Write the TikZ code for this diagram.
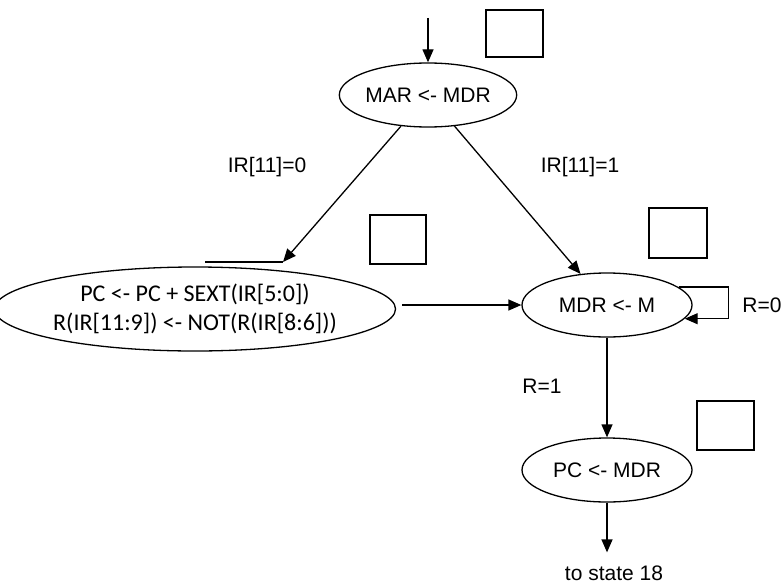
\documentclass[tikz,border=0pt]{standalone}
\usepackage{fontspec}
\setmainfont{Liberation Sans}
\newfontfamily\calfont{Carlito}
\usetikzlibrary{shapes.geometric,arrows.meta}
\tikzset{
  state/.style={ellipse,draw,line width=1.3pt,minimum width=170pt,minimum height=64pt,inner sep=0pt,font=\fontsize{21}{25}\selectfont},
  box/.style={draw,line width=1.6pt,inner sep=0pt},
  lbl/.style={inner sep=0pt,font=\fontsize{21}{25}\selectfont},
  arr/.style={line width=1.3pt,-{Triangle[length=13pt,width=11pt]}},
  ln/.style={line width=1.3pt}
}
\begin{document}
\begin{tikzpicture}[x=1pt,y=-1pt]
\useasboundingbox (0,0) rectangle (783,586);
% states
\node[state] (mar) at (428,95) {MAR <- MDR};
\node[state,minimum width=372pt,minimum height=84pt,font=\calfont\fontsize{24}{29}\selectfont,align=center] (left) at (195,309)
  {PC <- PC + SEXT(IR[5:0])\\R(IR[11:9]) <- NOT(R(IR[8:6]))};
\node[state] (mdr) at (607,305) {MDR <- M};
\node[state] (pcm) at (607,470) {PC <- MDR};
\node[lbl] (t18) at (614,573) {to state 18};
% squares
\node[box,minimum width=57pt,minimum height=47pt] (sq1) at (514.5,33.5) {};
\node[box,minimum width=56pt,minimum height=49pt] (sq2) at (398,239.5) {};
\node[box,minimum width=58pt,minimum height=50pt] (sq3) at (678,233) {};
\node[box,minimum width=57pt,minimum height=49pt] (sq4) at (725.5,425.5) {};
% labels
\node[lbl] (l0) at (267,167) {IR[11]=0};
\node[lbl] (l1) at (580,167) {IR[11]=1};
\node[lbl] (r0) at (762,305) {R=0};
\node[lbl] (r1) at (542,386) {R=1};
% connectors
\coordinate (start) at (428,18);
\coordinate (lt) at (283,262);
\coordinate (lh) at (205,262);
\draw[arr] (start) -- (mar);
\draw[arr] (mar) -- (lt);
\draw[ln] (lh) -- (lt);
\draw[arr] (mar) -- (mdr);
\draw[arr,shorten <=6pt] (left.east |- mdr.west) -- (mdr.west);
\draw[arr] (mdr.14) -- ++(50,0) |- (mdr.-10);
\draw[arr] (mdr) -- (pcm);
\draw[arr,shorten >=13pt] (pcm) -- (t18.north -| pcm);
\end{tikzpicture}
\end{document}
